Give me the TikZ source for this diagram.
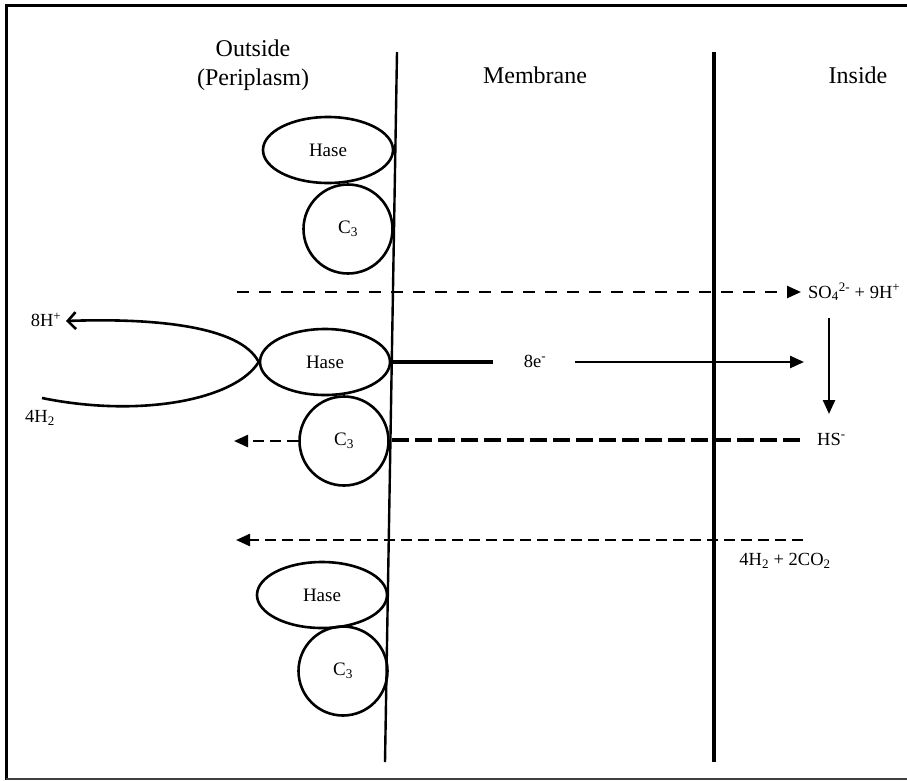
\documentclass[tikz,border=0pt]{standalone}
\usepackage{fontspec}
\setmainfont{Liberation Serif}
\usetikzlibrary{shapes.geometric,arrows.meta}
\begin{document}
\begin{tikzpicture}[x=1pt,y=-1pt,
  protein/.style={draw,line width=2.6pt,inner sep=0pt,
    font=\fontsize{19}{21}\selectfont},
  hase/.style={protein,ellipse,minimum width=130pt,minimum height=66pt},
  cyto/.style={protein,circle,minimum size=89pt},
  heading/.style={font=\fontsize{24}{29}\selectfont,align=center},
  chem/.style={font=\fontsize{18.5}{20}\selectfont,inner sep=0pt},
  flux/.style={line width=2.4pt,dash pattern=on 11pt off 6pt},
  tip/.style={-{Triangle[length=14pt,width=12pt]}},
]
\useasboundingbox (0,0) rectangle (907,780);
% frame
\draw[line width=3pt] (907,5) -- (6,5) -- (6,780);
\draw[line width=1.2pt,black!75] (6,779) -- (907,779);

% headings
\node[heading] (outside) at (253,65) {Outside\\(Periplasm)};
\node[heading] (membrane) at (535,75) {Membrane};
\node[heading] (inside) at (858,75) {Inside};

% membrane boundaries
\coordinate (m1top) at (397,52);
\coordinate (m1bot) at (385,762);
\coordinate (m2top) at (714,52);
\coordinate (m2bot) at (714,762);
\draw[line width=2.4pt] (m1top) -- (m1bot);
\draw[line width=4pt] (m2top) -- (m2bot);

% hydrogenase / cytochrome pairs
\node[hase] (hase1) at (328,150) {Hase};
\node[cyto] (cyt1) at (348,229) {C\textsubscript{3}};
\node[hase] (hase2) at (325,362) {Hase};
\node[cyto] (cyt2) at (344,441) {C\textsubscript{3}};
\node[hase] (hase3) at (322,595) {Hase};
\node[cyto] (cyt3) at (343,671) {C\textsubscript{3}};

% H2 oxidation loop
\node[chem] (hplus) at (46,320) {8H\textsuperscript{+}};
\node[chem] (htwo) at (40,418) {4H\textsubscript{2}};
\coordinate (h2start) at (42,398);
\coordinate (hplusend) at (66,321);
\draw[line width=2.6pt,-{Straight Barb[length=8pt,width=17pt]}]
  (hase2.west) .. controls (240,325) and (150,318) .. (hplusend);
\draw[line width=2.6pt]
  (hase2.west) .. controls (235,400) and (140,418) .. (h2start);

% sulfate uptake
\node[chem,anchor=west] (sulfate) at (808,292) {SO\textsubscript{4}\textsuperscript{2-} + 9H\textsuperscript{+}};
\coordinate (sulfin) at (237,292);
\coordinate (sulftip) at (801,292);
\draw[flux,dash pattern=on 12pt off 10pt,tip] (sulfin) -- (sulftip);

% electron transfer
\node[chem] (elec) at (535,361) {8e\textsuperscript{-}};
\coordinate (econn) at (390,362);
\coordinate (eout) at (493,362);
\coordinate (ein) at (575,362);
\coordinate (etip) at (804,362);
\draw[line width=3.6pt] (econn) -- (eout);
\draw[line width=2.4pt,tip] (ein) -- (etip);

% sulfate reduction
\node[chem,anchor=west] (hs) at (817,439) {HS\textsuperscript{-}};
\coordinate (redtop) at (829,318);
\coordinate (redbot) at (829,414);
\draw[line width=2.4pt,tip] (redtop) -- (redbot);

% sulfide export
\coordinate (hsline) at (800,440);
\coordinate (hsmem) at (389,440);
\coordinate (hsout) at (234,441);
\draw[line width=3.8pt,dash pattern=on 17pt off 6pt] (hsline) -- (hsmem);
\draw[flux,tip] (cyt2.west) -- (hsout);

% H2 + CO2 export
\node[chem] (hco) at (785,561) {4H\textsubscript{2} + 2CO\textsubscript{2}};
\coordinate (hcoline) at (803,540);
\coordinate (hcoout) at (236,540);
\draw[flux,tip] (hcoline) -- (hcoout);
\end{tikzpicture}
\end{document}
